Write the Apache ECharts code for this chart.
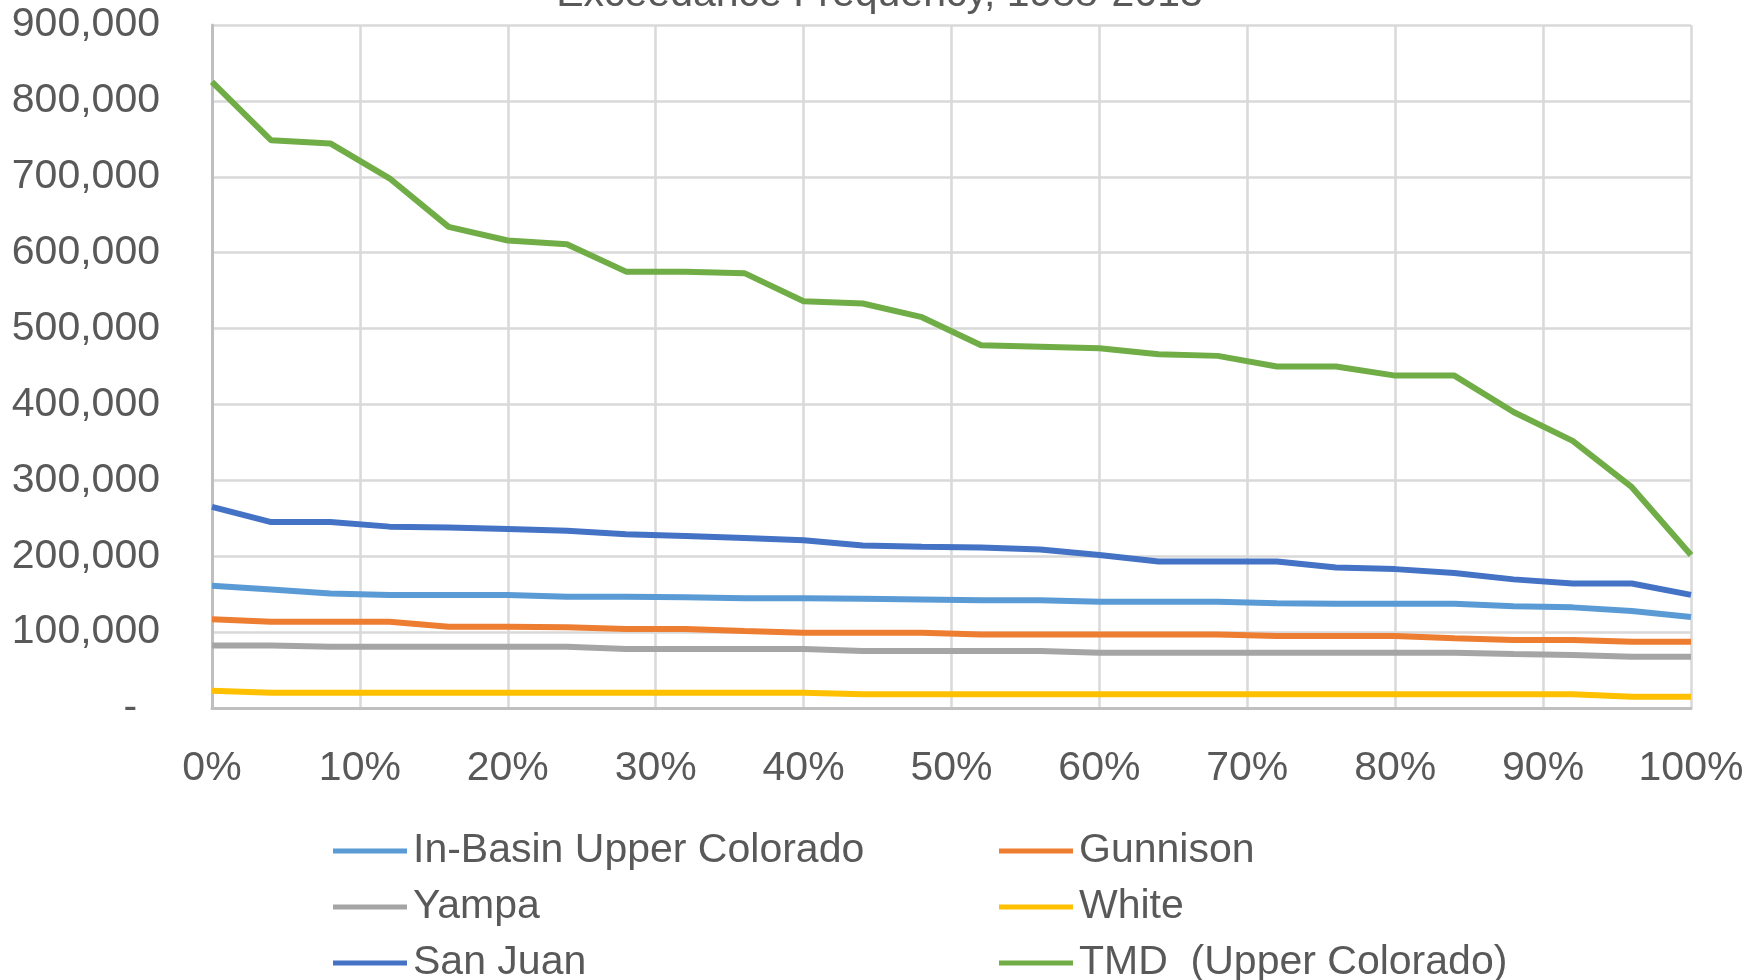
<!DOCTYPE html>
<html>
<head>
<meta charset="utf-8">
<script src="https://cdn.jsdelivr.net/npm/echarts@6/dist/echarts.min.js"></script>
<style>html,body{margin:0;padding:0;background:#fff}#c{width:1759px;height:980px}</style>
</head>
<body>
<div id="c"></div>
<script>
const titleText = 'Exceedance Frequency, 1988-2013';
const exceedance = [0,4,8,12,16,20,24,28,32,36,40,44,48,52,56,60,64,68,72,76,80,84,88,92,96,100];
const inBasin = [161000,156000,151000,149000,149000,149000,146600,146600,145800,144500,144500,144000,143000,142000,142000,140000,140000,140000,138000,137500,137500,137500,134000,132600,127800,120000];
const gunnison = [116800,113700,113700,113700,107000,107000,106500,104000,104000,101400,99000,99000,99000,97000,97000,97000,97000,97000,95000,95000,95000,91800,89600,89600,87400,87400];
const yampa = [82500,82500,80800,80800,80800,80800,80800,77700,77700,77700,77700,75000,75000,75000,75000,72900,72900,72900,72900,72900,72900,72900,71000,70000,67600,67600];
const white = [22800,20200,20200,20200,20200,20200,20200,20200,20200,20200,20200,18000,18000,18000,18000,18000,18000,18000,18000,18000,18000,18000,18000,18000,14900,14900];
const sanJuan = [265000,245000,245000,239000,238000,236000,233500,229000,226500,224000,221000,214000,212500,211600,209000,201500,193000,193000,193000,185000,183000,178000,169500,164000,164000,149000];
const tmd = [825000,748000,744000,698000,634000,616000,611000,575000,575000,573000,536000,533000,515000,478000,476000,474000,466000,464000,450000,450000,438000,438000,390000,352000,291000,201500];
const seriesNames = ['In-Basin Upper Colorado','Gunnison','Yampa','White','San Juan','TMD  (Upper Colorado)'];
const seriesData = [inBasin, gunnison, yampa, white, sanJuan, tmd];
const colors = ['#5B9BD5','#ED7D31','#A5A5A5','#FFC000','#4472C4','#70AD47'];

const FONT = '"Liberation Sans", Arial, sans-serif';
const FS = 41;
const chart = echarts.init(document.getElementById('c'), null, {renderer:'canvas'});
const series = seriesNames.map((n,i)=>({
  name:n, type:'line', showSymbol:false, symbol:'none',
  data: exceedance.map((x,j)=>[x/100, seriesData[i][j]]),
  lineStyle:{width:6, color:colors[i]}, itemStyle:{color:colors[i]},
  z: 10 - i
}));
const legendPos = [[333,830],[999,830],[333,886],[999,886],[333,942],[999,942]];
const legends = seriesNames.map((n,i)=>({
  left: legendPos[i][0], top: legendPos[i][1], data:[n], padding:0,
  icon:'rect', itemWidth:74, itemHeight:5,
  textStyle:{fontFamily:FONT, fontSize:FS, color:'#595959', lineHeight:42, padding:[0,0,0,1]}
}));
chart.setOption({
  animation:false,
  backgroundColor:'#fff',
  title:{text:titleText, left:'center', top:-31, textStyle:{fontFamily:FONT, fontSize:FS, fontWeight:'normal', color:'#595959'}},
  grid:{left:212, right:68, top:25, bottom:272, containLabel:false},
  legend: legends,
  xAxis:{type:'value', min:0, max:1, interval:0.1,
    axisLine:{show:true, lineStyle:{color:'#bfbfbf', width:3}},
    axisTick:{show:false},
    splitLine:{show:true, lineStyle:{color:'#d9d9d9', width:2.5}},
    axisLabel:{margin:40, fontFamily:FONT, fontSize:FS, color:'#595959', formatter:v=>Math.round(v*100)+'%'}
  },
  yAxis:{type:'value', min:0, max:900000, interval:100000,
    axisLine:{show:true, lineStyle:{color:'#bfbfbf', width:3}},
    axisTick:{show:false},
    splitLine:{show:true, lineStyle:{color:'#d9d9d9', width:2.5}},
    axisLabel:{margin:52, fontFamily:FONT, fontSize:FS, color:'#595959',
      formatter:v=> v===0 ? '-  ' : v.toLocaleString('en-US')}
  },
  series
});
</script>
</body>
</html>
